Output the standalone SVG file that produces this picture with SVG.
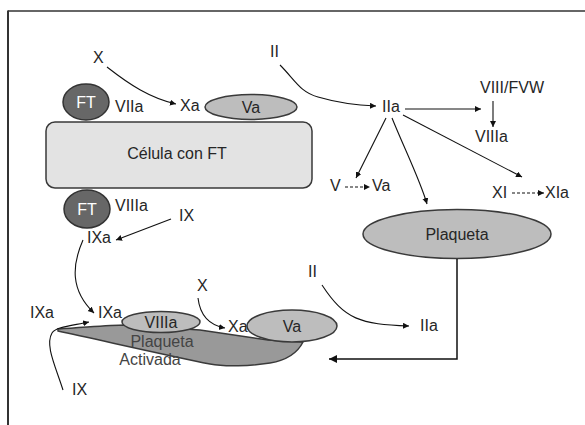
<svg xmlns="http://www.w3.org/2000/svg" width="585" height="425" viewBox="0 0 585 425">
<defs>
<marker id="ah" markerUnits="userSpaceOnUse" markerWidth="7" markerHeight="7" refX="6" refY="3" orient="auto">
<path d="M0,0 L6,3 L0,6 z" fill="#111"/>
</marker>
<marker id="ahb" markerUnits="userSpaceOnUse" markerWidth="9" markerHeight="9" refX="8" refY="4" orient="auto">
<path d="M0,0 L8,4 L0,8 z" fill="#111"/>
</marker>
<style>
text{font-family:"Liberation Sans",Arial,sans-serif;font-size:16px;fill:#262626}
.c{text-anchor:middle}
.w{fill:#ffffff}
.g{fill:#444}
.ln{fill:none;stroke:#111;stroke-width:1.1;marker-end:url(#ah)}
.d{stroke-dasharray:3,2}
.ell{fill:#bdbdbd;stroke:#3a3a3a;stroke-width:1.5}
.ft{fill:#676767;stroke:#333;stroke-width:1.5}
</style>
</defs>
<rect width="585" height="425" fill="#fff"/>
<g id="frame" fill="none" stroke="#333">
<line x1="8" y1="11" x2="585" y2="11" stroke-width="1.5"/>
<line x1="8" y1="10.5" x2="8" y2="425" stroke-width="2"/>
</g>

<g id="cell">
<rect x="46" y="122" width="266" height="66" rx="9" fill="#e3e3e3" stroke="#3a3a3a" stroke-width="1.5"/>
<text x="177" y="159" class="c">Célula con FT</text>
</g>
<g id="ft-top">
<ellipse cx="86" cy="102" rx="23" ry="18" class="ft"/>
<text x="86" y="108" class="c w">FT</text>
</g>
<g id="ft-bottom">
<ellipse cx="87" cy="209" rx="23" ry="19" class="ft"/>
<text x="87" y="215" class="c w">FT</text>
</g>
<g id="va-top">
<ellipse cx="251" cy="107" rx="46" ry="12.5" class="ell"/>
<text x="251" y="113" class="c">Va</text>
</g>
<g id="plaqueta">
<ellipse cx="457" cy="234" rx="94" ry="24.5" class="ell"/>
<text x="457" y="240" class="c">Plaqueta</text>
</g>
<g id="plaqueta-activada">
<path d="M58,329 C90,327 110,325 125,325 L200,330 L268,340 L303,342 C298,352 288,360 270,363 C250,366 225,367 210,364 C170,356 100,340 58,331 Z" fill="#999" stroke="#3a3a3a" stroke-width="1.5"/>
<ellipse cx="161" cy="322" rx="39" ry="10.5" class="ell"/>
<text x="161" y="328" class="c">VIIIa</text>
<ellipse cx="292" cy="326" rx="45" ry="16" class="ell"/>
<text x="292" y="332" class="c">Va</text>
<text x="162" y="347" class="c g">Plaqueta</text>
<text x="150" y="365" class="c g">Activada</text>
</g>
<g id="labels">
<text x="93" y="63">X</text>
<text x="270" y="57">II</text>
<text x="115" y="112">VIIa</text>
<text x="180" y="111">Xa</text>
<text x="115" y="211">VIIIa</text>
<text x="179" y="221">IX</text>
<text x="87" y="243">IXa</text>
<text x="30" y="318">IXa</text>
<text x="98" y="318">IXa</text>
<text x="72" y="395">IX</text>
<text x="197" y="291">X</text>
<text x="228" y="332">Xa</text>
<text x="308" y="277">II</text>
<text x="420" y="331">IIa</text>
<text x="382" y="112">IIa</text>
<text x="480" y="93">VIII/FVW</text>
<text x="475" y="142">VIIIa</text>
<text x="330" y="191">V</text>
<text x="372" y="191">Va</text>
<text x="492" y="198">XI</text>
<text x="545" y="198">XIa</text>
</g>
<g id="connectors">
<path class="ln" d="M107,67 C130,85 150,98 176,104"/>
<path class="ln" d="M280,65 C295,80 300,92 318,97 C335,102 350,105 376,106"/>
<path class="ln" d="M405,109 L481,109"/>
<path class="ln" d="M493,101 L493,127"/>
<path class="ln" d="M386,118 L356,178"/>
<path class="ln" d="M392,118 C405,150 420,180 427,204"/>
<path class="ln" d="M403,115 L522,177"/>
<path class="ln d" d="M345,187 L370,187"/>
<path class="ln d" d="M512,193 L544,193"/>
<path class="ln" d="M171,219 L116,240"/>
<path class="ln" d="M83,240 C72,265 70,290 94,313"/>
<path class="ln" d="M63,390 C55,365 45,345 52,333 C56,327 70,326 89,322"/>
<path class="ln" d="M198,298 C200,315 208,325 225,328"/>
<path class="ln" d="M322,285 C345,320 360,324 409,326"/>
<path fill="none" stroke="#111" stroke-width="1.5" marker-end="url(#ahb)" d="M457,259 L457,359 L329,359"/>
</g>
</svg>
